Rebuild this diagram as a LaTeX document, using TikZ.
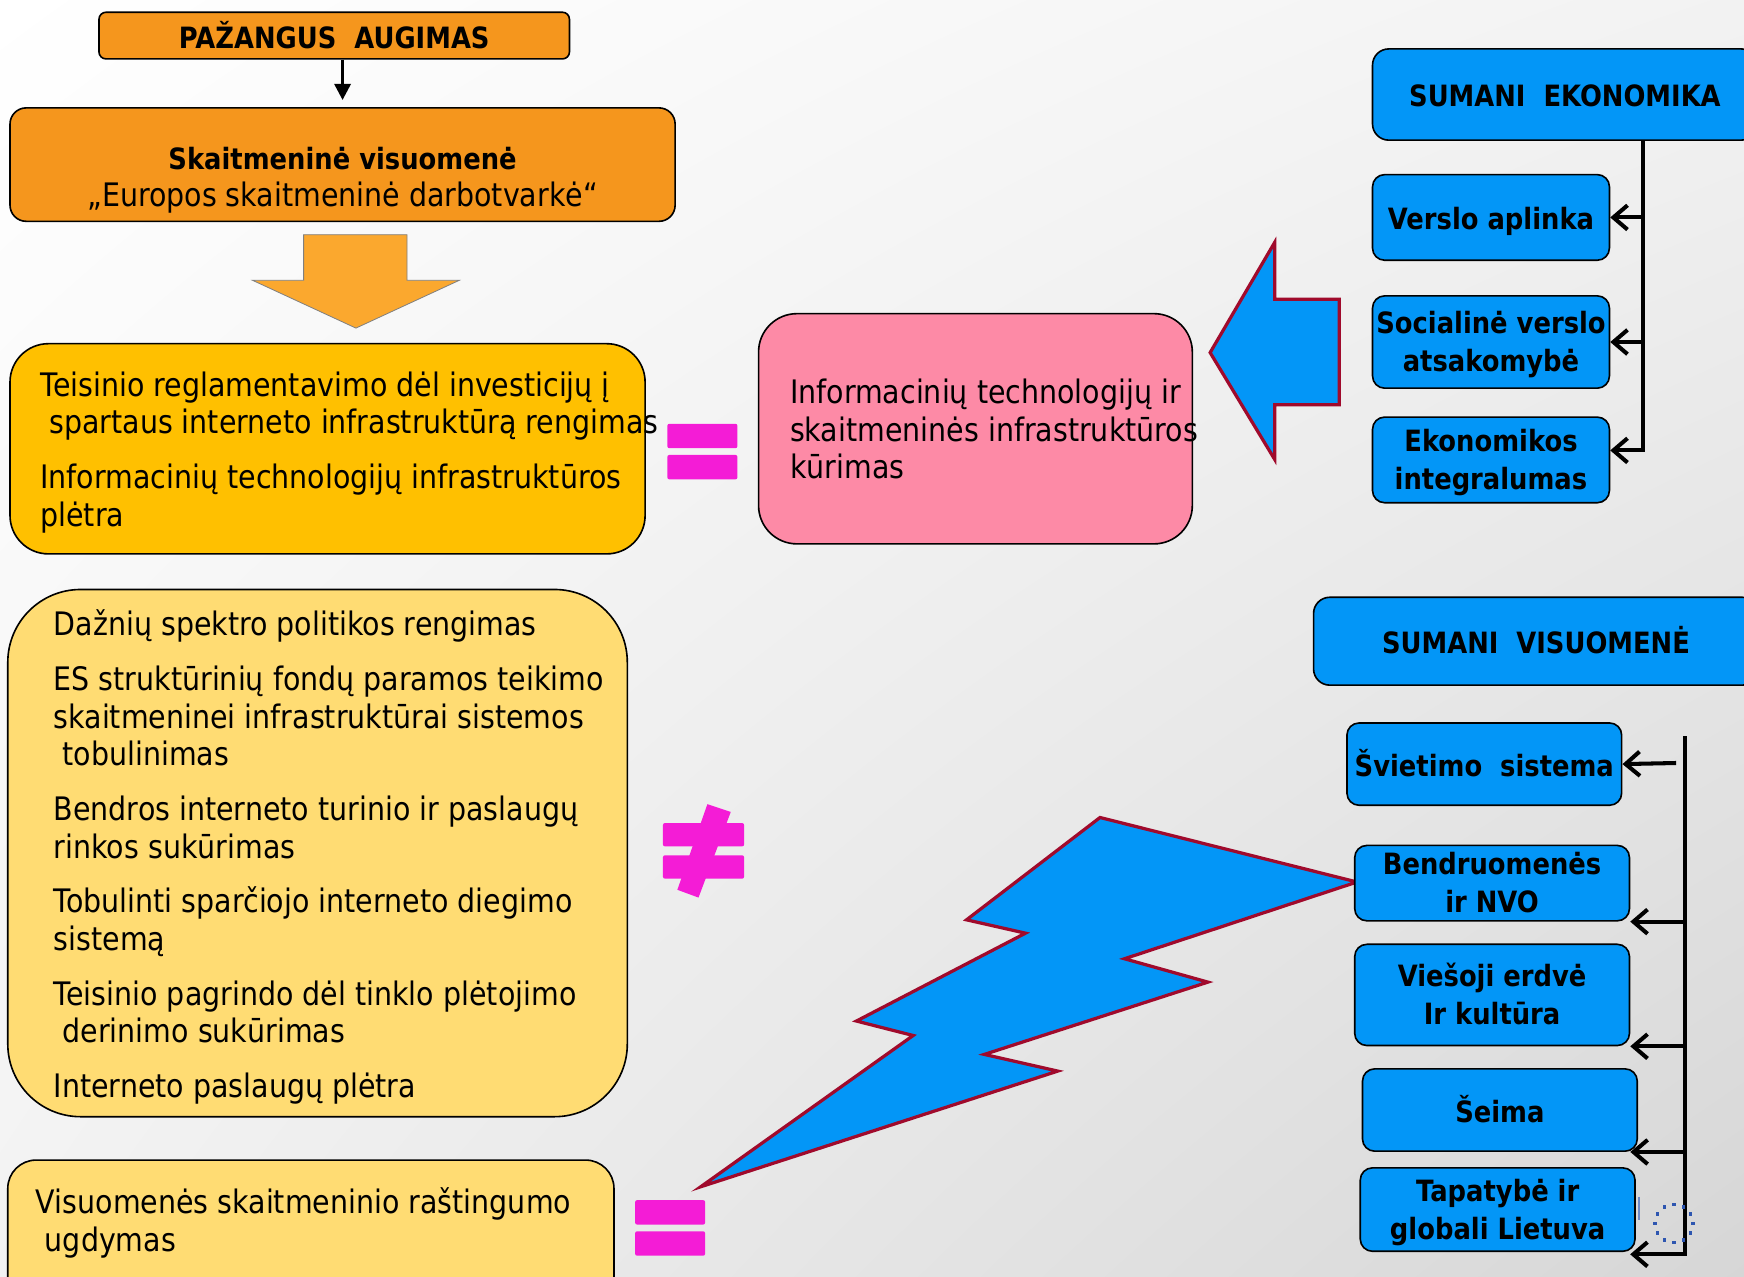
\documentclass[tikz,border=0pt]{standalone}
\usepackage{fontspec}
\setmainfont{DejaVu Sans}[FakeStretch=0.88]
\usetikzlibrary{arrows.meta,shadings}

\definecolor{orng}{HTML}{F5961D}
\definecolor{orngl}{HTML}{FBA82E}
\definecolor{gold}{HTML}{FFC000}
\definecolor{lyel}{HTML}{FFDC73}
\definecolor{pinkbox}{HTML}{FD8AA6}
\definecolor{magn}{HTML}{F41CD6}
\definecolor{skyb}{HTML}{0396F7}
\definecolor{dred}{HTML}{A00A2C}
\definecolor{eublue}{HTML}{2E56B0}

\newlength\px
\setlength\px{0.55pt}
\newcommand\bstrut{\rule[-4pt]{0pt}{19.9pt}}
\newcommand\bbstrut{\rule[-4pt]{0pt}{37.3pt}}
\newcommand\rstrut{\rule[-4.4pt]{0pt}{24pt}}

\begin{document}
\begin{tikzpicture}[x=0.55pt, y=-0.55pt,
    box/.style 2 args={draw=black, line width=0.8pt, minimum width=#1*\px, minimum height=#2*\px, inner sep=0pt, align=center},
    bluebox/.style 2 args={box={#1}{#2}, fill=skyb, rounded corners=6pt, font=\fontsize{14.5}{18.7}\selectfont\bfseries,
        execute at begin node=\bstrut, execute at end node=\bstrut},
    twoline/.style={execute at begin node=\bbstrut},
    txt/.style={anchor=west, inner sep=0pt, align=left, font=\fontsize{16}{18.7}\selectfont,
        execute at begin node=\rstrut, execute at end node=\rstrut},
    barb/.style={line width=2pt, -{Straight Barb[length=7pt, width=12pt, line width=2pt]}},
    tarr/.style={line width=1.5pt, -{Triangle[length=8pt, width=8pt]}},
    eqbar/.style={fill=magn, rounded corners=1pt},
    bolt/.style={fill=skyb, draw=dred, line width=1.6pt, line join=miter}]

    \useasboundingbox (0,0) rectangle (1568,1148);
    \clip (0,0) rectangle (1568,1148);
    \shade[upper left=white, upper right=black!5, lower left=black!5, lower right=black!16] (0,0) rectangle (1568,1148);

    % left column
    \node[box={423}{42}, fill=orng, rounded corners=3.5pt, font=\fontsize{14.5}{18}\selectfont\bfseries] (pazang) at (300.5,32) {PAŽANGUS\ \ AUGIMAS};
    \node[box={598}{102}, fill=orng, rounded corners=8pt] (skait) at (308,148) {};
    \node[txt, anchor=center, align=center] (skaittxt) at (308,163) {{\bfseries\fontsize{14.5}{18.7}\selectfont Skaitmeninė visuomenė}\\„Europos skaitmeninė darbotvarkė“};
    \draw[tarr, shorten >=3.5pt] (pazang.south -| skait.north) -- (skait.north);

    \draw[fill=orngl, draw=gray, line width=0.4pt] (273,211) -- (366,211) -- (366,252) -- (413,252) -- (320,295) -- (227,252) -- (273,252) -- cycle;

    \node[box={571}{189}, fill=gold, rounded corners=19pt] (gold) at (294.5,403.5) {};
    \node[txt] (goldtxt) at (36,407.5) {Teisinio reglamentavimo dėl investicijų į\\\hspace*{4.4pt}spartaus interneto infrastruktūrą rengimas\\[8.25pt]Informacinių technologijų infrastruktūros\\plėtra};

    \node[box={557}{474}, fill=lyel, rounded corners=36pt] (lyel) at (285.5,767) {};
    \node[txt] (lyeltxt) at (48,771.5) {Dažnių spektro politikos rengimas\\[8.25pt]ES struktūrinių fondų paramos teikimo\\skaitmeninei infrastruktūrai sistemos\\\hspace*{4.4pt}tobulinimas\\[8.25pt]Bendros interneto turinio ir paslaugų\\rinkos sukūrimas\\[8.25pt]Tobulinti sparčiojo interneto diegimo\\sistemą\\[8.25pt]Teisinio pagrindo dėl tinklo plėtojimo\\\hspace*{4.4pt}derinimo sukūrimas\\[8.25pt]Interneto paslaugų plėtra};

    \node[box={545}{130}, fill=lyel, rounded corners=14pt] (lyel2) at (279.5,1108) {};
    \node[txt] (lyel2txt) at (32,1100.5) {Visuomenės skaitmeninio raštingumo\\\hspace*{4.4pt}ugdymas};

    % signs
    \foreach \y in {381,409}
        \fill[eqbar] (600,\y) rectangle (663,\y+22);
    \foreach \y in {1079,1107}
        \fill[eqbar] (571,\y) rectangle (634,\y+22);
    \foreach \y in {740,769}
        \fill[eqbar] (596,\y) rectangle (669,\y+21);
    \fill[magn] (636,723) -- (657,730) -- (628,807) -- (609,800) -- cycle;

    % middle
    \node[box={390}{207}, fill=pinkbox, rounded corners=19pt] (pinkb) at (877,385.5) {};
    \node[txt] (pinktxt) at (710,389.5) {Informacinių technologijų ir\\skaitmeninės infrastruktūros\\kūrimas};

    \draw[bolt] (1088,317) -- (1146,218) -- (1146,269) -- (1204,269) -- (1204,364) -- (1146,364) -- (1146,413) -- cycle;

    \draw[bolt] (630,1067) -- (821,931) -- (770,918) -- (922,839) -- (869,827) -- (989,735) -- (1220,793) -- (1011,862) -- (1086,883) -- (885,948) -- (951,963) -- cycle;

    % sumani ekonomika
    \node[bluebox={346}{82}, rounded corners=8pt] (ekon) at (1407,85) {SUMANI\ \ EKONOMIKA};
    \node[bluebox={213}{77}] (verslo) at (1340.5,195.5) {Verslo aplinka};
    \node[bluebox={213}{83}, twoline] (socl) at (1340.5,307.5) {Socialinė verslo\\atsakomybė};
    \node[bluebox={213}{77}, twoline] (ekint) at (1340.5,413.5) {Ekonomikos\\integralumas};

    \coordinate (ebus) at (1477,126);
    \draw[barb, yshift=-4pt] (ebus |- verslo.east) -- (verslo.east);
    \draw[barb, yshift=-2.5pt] (ebus |- socl.east) -- (socl.east);
    \draw[barb] (ebus) |- ([yshift=4.7pt]ekint.east);

    % sumani visuomene
    \node[bluebox={400}{79}, rounded corners=8pt] (visu) at (1381,576.5) {SUMANI\ \ VISUOMENĖ};
    \node[bluebox={247}{74}] (svietimo) at (1334.5,687) {Švietimo\ \ sistema};
    \node[bluebox={247}{66}, twoline] (bendr) at (1341.5,794) {Bendruomenės\\ir NVO};
    \node[bluebox={247}{91}, twoline] (viesoji) at (1341.5,894.5) {Viešoji erdvė\\Ir kultūra};
    \node[bluebox={247}{74}] (seima) at (1348.5,998) {Šeima};
    \node[bluebox={247}{75}, twoline] (tapat) at (1346.5,1087.5) {Tapatybė ir\\globali Lietuva};

    \coordinate (vtop) at (1515,662);
    \coordinate (sv0) at (1507,686);
    \draw[barb] (sv0) -- (svietimo.east);
    \draw[barb, yshift=-3.3pt] (vtop |- bendr.south east) -- (bendr.south east);
    \draw[barb] (vtop |- viesoji.south east) -- (viesoji.south east);
    \draw[barb, yshift=1.6pt] (vtop |- seima.south east) -- ([xshift=-3.8pt]seima.south east);
    \draw[barb] (vtop) |- ([shift={(-2.8pt,-1.1pt)}]tapat.south east);

    % logo remnant
    \foreach \a in {0,30,...,330}
        \fill[eublue] (1505,1100) ++(\a:17) ++(-1.5,-1.5) rectangle ++(3,3);
    \draw[eublue!70, line width=1pt] (1474,1076) -- (1474,1097);
\end{tikzpicture}
\end{document}
